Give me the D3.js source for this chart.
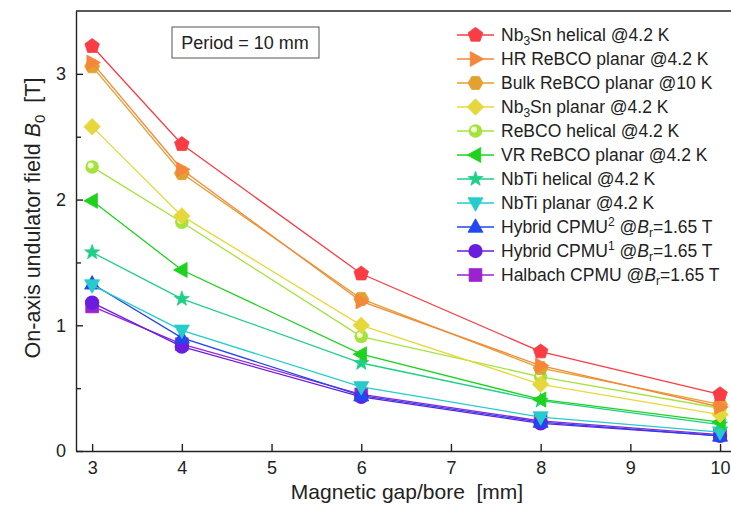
<!DOCTYPE html>
<html>
<head>
<meta charset="utf-8">
<script src="https://cdn.jsdelivr.net/npm/d3@7"></script>
<style>
  body { margin: 0; background: #fff; }
  svg { font-family: "Liberation Sans", Arial, sans-serif; }
</style>
</head>
<body>
<svg id="chart" width="731" height="505"></svg>
<script>
// === Dane ===
const gaps = [3, 4, 6, 8, 10];

const names = [
    "Nb3Sn helical @4.2 K", "HR ReBCO planar @4.2 K", "Bulk ReBCO planar @10 K",
    "Nb3Sn planar @4.2 K", "ReBCO helical @4.2 K", "VR ReBCO planar @4.2 K",
    "NbTi helical @4.2 K", "NbTi planar @4.2 K", "Hybrid CPMU2 @Br=1.65 T",
    "Hybrid CPMU1 @Br=1.65 T", "Halbach CPMU @Br=1.65 T"
];

const nb3snHelical = [3.22, 2.44, 1.41, 0.79, 0.45];
const hrRebcoPlanar = [3.09, 2.24, 1.19, 0.68, 0.35];
const bulkRebcoPlanar = [3.06, 2.21, 1.21, 0.66, 0.37];
const nb3snPlanar = [2.58, 1.87, 1.00, 0.53, 0.29];
const rebcoHelical = [2.26, 1.82, 0.91, 0.59, 0.34];
const vrRebcoPlanar = [1.99, 1.44, 0.77, 0.41, 0.23];
const nbtiHelical = [1.58, 1.21, 0.70, 0.40, 0.21];
const nbtiPlanar = [1.32, 0.96, 0.51, 0.27, 0.15];
const hybrid2 = [1.33, 0.90, 0.44, 0.23, 0.12];
const hybrid1 = [1.18, 0.83, 0.43, 0.22, 0.12];
const halbach = [1.15, 0.85, 0.45, 0.24, 0.13];

const seriesValues = [nb3snHelical, hrRebcoPlanar, bulkRebcoPlanar, nb3snPlanar,
    rebcoHelical, vrRebcoPlanar, nbtiHelical, nbtiPlanar, hybrid2, hybrid1, halbach];

const colors = ["#fa3c44", "#f5873a", "#e3a130", "#e6d83c", "#a6e23e", "#1fd21f",
    "#1fcf86", "#25cccc", "#2346ee", "#6a1ddf", "#9a22cf"];
const shapes = ["pentagon", "triR", "hexagon", "diamond", "ball", "triL",
    "star", "triD", "triU", "circle", "square"];

const xTicks = [3, 4, 5, 6, 7, 8, 9, 10];
const yTicks = [0, 1, 2, 3];
const yMinor = [0.5, 1.5, 2.5];

// === Skale ===
const svg = d3.select("#chart");
const mLeft = 76, mTop = 11, mRight = 738, mBottom = 451;
const x = d3.scaleLinear().domain([2.82, 10.2]).range([mLeft, mRight]);
const y = d3.scaleLinear().domain([0, 3.5]).range([mBottom, mTop]);

// === Osie ===
const styleAxis = g => {
    g.select(".domain").attr("stroke", "#222").attr("stroke-width", 1.4);
    g.selectAll(".tick line").attr("stroke", "#222").attr("stroke-width", 1.4);
    g.selectAll("text").attr("font-size", 18).attr("fill", "#222")
        .attr("font-family", "Liberation Sans, Arial, sans-serif");
};

svg.append("g").attr("transform", `translate(0,${mBottom})`)
    .call(d3.axisBottom(x).tickValues(xTicks).tickFormat(d3.format("d"))
        .tickSizeInner(-7).tickSizeOuter(0).tickPadding(10))
    .call(styleAxis);

svg.append("g").attr("transform", `translate(${mLeft},0)`)
    .call(d3.axisLeft(y).tickValues(yTicks).tickFormat(d3.format("d"))
        .tickSizeInner(-7).tickSizeOuter(0).tickPadding(10))
    .call(styleAxis);

svg.append("g").attr("transform", `translate(${mLeft},0)`)
    .call(d3.axisLeft(y).tickValues(yMinor).tickSizeInner(-5).tickSizeOuter(0).tickFormat(""))
    .call(g => g.select(".domain").remove())
    .call(g => g.selectAll(".tick line").attr("stroke", "#222").attr("stroke-width", 1.4));

// top border
svg.append("line").attr("x1", mLeft).attr("x2", mRight).attr("y1", mTop).attr("y2", mTop)
    .attr("stroke", "#222").attr("stroke-width", 1.4);

// === Etykiety osi ===
svg.append("text").attr("x", 407).attr("y", 499).attr("text-anchor", "middle")
    .style("white-space", "pre")
    .attr("font-size", 21).attr("fill", "#222").text("Magnetic gap/bore  [mm]");

const yl = svg.append("text").attr("transform", "translate(40,218) rotate(-90)")
    .style("white-space", "pre")
    .attr("text-anchor", "middle").attr("font-size", 21.5).attr("fill", "#222");
yl.append("tspan").text("On-axis undulator field ");
yl.append("tspan").attr("font-style", "italic").text("B");
yl.append("tspan").attr("font-size", 15).attr("dy", 5).text("0");
yl.append("tspan").attr("dy", -5).text("  [T]");

// Period box
svg.append("rect").attr("x", 172).attr("y", 27).attr("width", 147).attr("height", 31)
    .attr("fill", "#fff").attr("stroke", "#555").attr("stroke-width", 1);
svg.append("text").attr("x", 245).attr("y", 49).attr("text-anchor", "middle")
    .attr("font-size", 18).attr("fill", "#222").text("Period = 10 mm");

// === Markery ===
function drawMarker(g, shape, color, cx, cy) {
    const s = 7.5;
    const poly = pts => g.append("polygon").attr("points", pts.map(p => [cx + p[0], cy + p[1]].join(",")).join(" "))
        .attr("fill", color).attr("stroke", color).attr("stroke-width", 0.8);
    const reg = (n, r, rot) => d3.range(n).map(i => {
        const a = rot + i * 2 * Math.PI / n;
        return [r * Math.cos(a), r * Math.sin(a)];
    });
    switch (shape) {
        case "pentagon": poly(reg(5, s * 1.02, -Math.PI / 2)); break;
        case "hexagon": poly(reg(6, s, 0)); break;
        case "diamond": poly([[0, -s * 1.1], [s * 1.1, 0], [0, s * 1.1], [-s * 1.1, 0]]); break;
        case "triR": poly([[s * 1.1, 0], [-s * 0.7, -s], [-s * 0.7, s]]); break;
        case "triL": poly([[-s * 1.1, 0], [s * 0.7, -s], [s * 0.7, s]]); break;
        case "triU": poly([[0, -s * 1.1], [s, s * 0.7], [-s, s * 0.7]]); break;
        case "triD": poly([[0, s * 1.1], [s, -s * 0.7], [-s, -s * 0.7]]); break;
        case "square": poly([[-s * 0.85, -s * 0.85], [s * 0.85, -s * 0.85], [s * 0.85, s * 0.85], [-s * 0.85, s * 0.85]]); break;
        case "star": {
            const pts = d3.range(10).map(i => {
                const a = -Math.PI / 2 + i * Math.PI / 5;
                const r = i % 2 ? s * 0.42 : s * 1.05;
                return [r * Math.cos(a), r * Math.sin(a)];
            });
            poly(pts); break;
        }
        case "circle":
            g.append("circle").attr("cx", cx).attr("cy", cy).attr("r", s * 0.95).attr("fill", color);
            break;
        case "ball":
            g.append("circle").attr("cx", cx).attr("cy", cy).attr("r", s * 0.9).attr("fill", color);
            g.append("circle").attr("cx", cx - 1.5).attr("cy", cy - 1.5).attr("r", s * 0.4).attr("fill", "#eafbc8");
            g.append("circle").attr("cx", cx - 2).attr("cy", cy - 2).attr("r", s * 0.18).attr("fill", "#fff");
            break;
    }
}

// === Serie (rysowane od końca, aby pierwsze były na wierzchu) ===
const line = d3.line().x((d, i) => x(gaps[i])).y(d => y(d));
const plot = svg.append("g");
d3.range(seriesValues.length).reverse().forEach(k => {
    const g = plot.append("g");
    g.append("path").datum(seriesValues[k]).attr("d", line)
        .attr("fill", "none").attr("stroke", colors[k]).attr("stroke-width", 1.3);
    seriesValues[k].forEach((v, i) => drawMarker(g, shapes[k], colors[k], x(gaps[i]), y(v)));
});

// === Legenda ===
const legend = svg.append("g");
names.forEach((name, k) => {
    const ly = 35 + k * 24;
    const g = legend.append("g");
    g.append("line").attr("x1", 457).attr("x2", 494).attr("y1", ly).attr("y2", ly)
        .attr("stroke", colors[k]).attr("stroke-width", 1.3);
    drawMarker(g, shapes[k], colors[k], 475.5, ly);
    const t = g.append("text").attr("x", 501).attr("y", ly + 6)
        .attr("font-size", 17.5).attr("fill", "#222");
    // indeksy dolne / górne
    let m;
    if ((m = name.match(/^Nb3Sn (.*)$/))) {
        t.append("tspan").text("Nb");
        t.append("tspan").attr("font-size", 12).attr("dy", 4).text("3");
        t.append("tspan").attr("dy", -4).text("Sn " + m[1]);
    } else if ((m = name.match(/^(.*?)(\d)? @Br=(.*)$/))) {
        t.append("tspan").text(m[1]);
        if (m[2]) t.append("tspan").attr("font-size", 12).attr("dy", -7).text(m[2]);
        t.append("tspan").attr("dy", m[2] ? 7 : 0).text(" @");
        t.append("tspan").attr("font-style", "italic").text("B");
        t.append("tspan").attr("font-size", 12).attr("dy", 4).text("r");
        t.append("tspan").attr("dy", -4).text("=" + m[3]);
    } else {
        t.text(name);
    }
});
</script>
</body>
</html>
